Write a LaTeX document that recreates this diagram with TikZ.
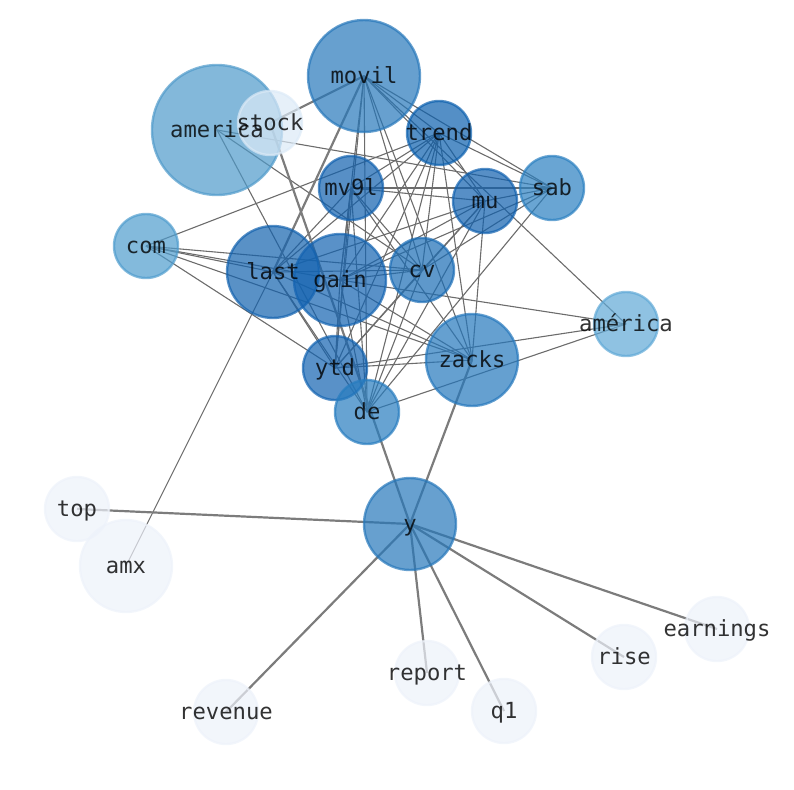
\documentclass[tikz,border=0pt]{standalone}
\usepackage{fontspec}
\newfontfamily\dejamono{DejaVu Sans Mono}
\pgfdeclarelayer{bg}
\pgfsetlayers{bg,main}
\definecolor{cmovil}{HTML}{2677BA}
\definecolor{camerica}{HTML}{4F9ACA}
\definecolor{cstock}{HTML}{DCEAF7}
\definecolor{ctrend}{HTML}{0C60AE}
\definecolor{cmvl}{HTML}{1060AE}
\definecolor{cmu}{HTML}{1060AE}
\definecolor{csab}{HTML}{2A7FC0}
\definecolor{ccom}{HTML}{4E9CCD}
\definecolor{clast}{HTML}{1362AE}
\definecolor{cgain}{HTML}{1363B1}
\definecolor{ccv}{HTML}{1A6CB5}
\definecolor{camer}{HTML}{5FA8D6}
\definecolor{czacks}{HTML}{2477BC}
\definecolor{cytd}{HTML}{1363B1}
\definecolor{cde}{HTML}{277CBF}
\definecolor{cy}{HTML}{2677BA}
\definecolor{cpale}{HTML}{EDF2FA}
\definecolor{edgegray}{HTML}{6C6C6C}
\definecolor{edgegray2}{HTML}{7C7C7C}
\tikzset{
  vtx/.style={circle, inner sep=0pt, line width=2.4bp, fill opacity=0.7, draw opacity=0.7, fill=#1, draw=#1},
  szA/.style={minimum size=64bp},
  szB/.style={minimum size=92bp},
  szC/.style={minimum size=112bp},
  szD/.style={minimum size=130bp},
  lbl/.style={font=\dejamono\fontsize{22.2bp}{26bp}\selectfont, text=black, text opacity=0.8, anchor=base, inner sep=0pt},
  ethin/.style={draw=edgegray, line width=1.1bp},
  ethick/.style={draw=edgegray2, line width=2.2bp},
}
\begin{document}
\begin{tikzpicture}[x=1bp,y=-1bp]
\useasboundingbox (0,0) rectangle (794,790);
% nodes (circles)
\node[vtx=cmovil,szC] (movil) at (364,76) {};
\node[vtx=camerica,szD] (america) at (217,130) {};
\node[vtx=cstock,szA] (stock) at (270,123) {};
\node[vtx=ctrend,szA] (trend) at (439,133) {};
\node[vtx=cmvl,szA] (mv9l) at (351,188) {};
\node[vtx=cmu,szA] (mu) at (485,201) {};
\node[vtx=csab,szA] (sab) at (552,188) {};
\node[vtx=ccom,szA] (com) at (146,246) {};
\node[vtx=clast,szB] (last) at (273,272) {};
\node[vtx=cgain,szB] (gain) at (340,280) {};
\node[vtx=ccv,szA] (cv) at (422,270) {};
\node[vtx=camer,szA] (amer2) at (626,324) {};
\node[vtx=czacks,szB] (zacks) at (472,360) {};
\node[vtx=cytd,szA] (ytd) at (335,368) {};
\node[vtx=cde,szA] (de) at (367,412) {};
\node[vtx=cy,szB] (y) at (410,524) {};
\node[vtx=cpale,szA] (top) at (77,509) {};
\node[vtx=cpale,szB] (amx) at (126,566) {};
\node[vtx=cpale,szA] (earnings) at (717,629) {};
\node[vtx=cpale,szA] (rise) at (624,657) {};
\node[vtx=cpale,szA] (report) at (427,673) {};
\node[vtx=cpale,szA] (q1) at (504,711) {};
\node[vtx=cpale,szA] (revenue) at (226,712) {};
% edges
\begin{pgfonlayer}{bg}
\foreach \a/\b in {america/sab, america/de, america/cv,
  com/trend, com/last, com/gain, com/cv, com/zacks, com/ytd,
  movil/gain, movil/ytd, movil/de, movil/cv, movil/zacks, movil/trend, movil/mu, movil/sab, movil/amer2,
  trend/mv9l, trend/last, trend/gain, trend/cv, trend/ytd, trend/de, trend/zacks, trend/mu, trend/sab,
  mu/mv9l, mu/gain, mu/last, mu/cv, mu/ytd, mu/de, mu/zacks, mu/sab,
  sab/mv9l, sab/cv, sab/gain, sab/de,
  mv9l/gain, mv9l/ytd, mv9l/de, mv9l/cv, mv9l/zacks, mv9l/last,
  cv/gain, cv/last, cv/ytd, cv/de,
  gain/amer2, gain/zacks, gain/ytd, gain/de,
  last/zacks, last/ytd, last/de, amx/last,
  zacks/ytd, ytd/amer2, de/amer2}
  \draw[ethin] (\a.center) -- (\b.center);
\foreach \a/\b in {movil/stock, movil/last, stock/y, zacks/y, y/top, y/revenue, y/report, y/q1, y/rise, y/earnings}
  \draw[ethick] (\a.center) -- (\b.center);
\end{pgfonlayer}
% labels
\foreach \n/\t in {movil/movil, america/america, stock/stock, trend/trend, mv9l/mv9l, mu/mu, sab/sab, com/com,
  last/last, gain/gain, cv/cv, amer2/américa, zacks/zacks, ytd/ytd, de/de, y/y, top/top, amx/amx,
  earnings/earnings, rise/rise, report/report, q1/q1, revenue/revenue}
  \node[lbl] (t-\n) at ([yshift=-7bp]\n.center) {\t};
\end{tikzpicture}
\end{document}
